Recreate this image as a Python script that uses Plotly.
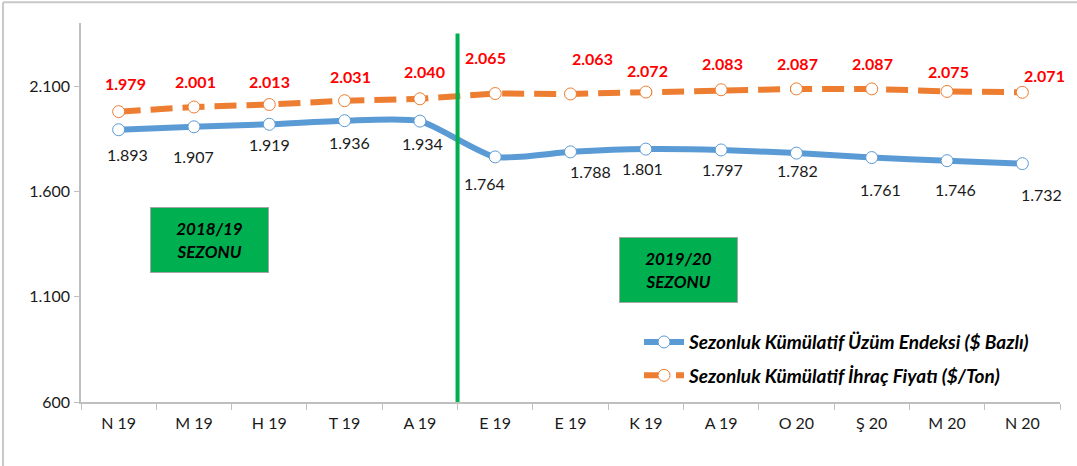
import plotly.graph_objects as go

months = ["N 19", "M 19", "H 19", "T 19", "A 19", "E 19", "E 19", "K 19", "A 19", "O 20", "Ş 20", "M 20", "N 20"]
endeks = [1893, 1907, 1919, 1936, 1934, 1764, 1788, 1801, 1797, 1782, 1761, 1746, 1732]
fiyat = [1979, 2001, 2013, 2031, 2040, 2065, 2063, 2072, 2083, 2087, 2087, 2075, 2071]
y_ticks = [600, 1100, 1600, 2100]
season_labels = ["2018/19<br>SEZONU", "2019/20<br>SEZONU"]

# label offsets (style only)
f_shift = [(7, 28), (2, 26), (0, 23), (6, 24), (5, 27), (-10, 36), (22, 35), (2, 22), (1, 26), (1, 25), (1, 25), (1, 20), (22, 17)]
e_shift = [(9, -25), (0, -30), (0, -20), (5, -22), (3, -22), (-11, -27), (20, -20), (-3, -19), (1, -20), (1, -17), (9, -32), (8, -29), (19, -31)]

FONT = "Lato"
BLUE = "#5B9BD5"
ORANGE = "#ED7D31"
GREEN = "#00B050"
AX = "#BFBFBF"

def fmt(v):
    return f"{v:,}".replace(",", ".")

x = list(range(len(months)))

fig = go.Figure()
fig.add_trace(go.Scatter(
    x=x, y=endeks, mode="lines+markers",
    name="<b><i>Sezonluk Kümülatif Üzüm Endeksi ($ Bazlı)</i></b>",
    line=dict(color=BLUE, width=6, shape="spline", smoothing=0.6),
    marker=dict(symbol="circle", size=12, color="white", line=dict(color=BLUE, width=1)),
    legend="legend",
))
fig.add_trace(go.Scatter(
    x=x, y=fiyat, mode="lines+markers",
    name="<b><i>Sezonluk Kümülatif İhraç Fiyatı ($/Ton)</i></b>",
    line=dict(color=ORANGE, width=6, dash="22px,10px"),
    marker=dict(symbol="circle", size=12, color="white", line=dict(color=ORANGE, width=1)),
    legend="legend2",
))

annotations = []
for i, v in enumerate(fiyat):
    annotations.append(dict(x=i, y=v, xref="x", yref="y", text=f"<b>{fmt(v)}</b>", showarrow=False,
                            xshift=f_shift[i][0], yshift=f_shift[i][1],
                            font=dict(family=FONT, size=16, color="#FF0000")))
for i, v in enumerate(endeks):
    annotations.append(dict(x=i, y=v, xref="x", yref="y", text=fmt(v), showarrow=False,
                            xshift=e_shift[i][0], yshift=e_shift[i][1],
                            font=dict(family=FONT, size=16, color="#1a1a1a")))

# season boxes
for (bx, by), txt in zip([(1.2, 1368), (7.44, 1226)], season_labels):
    annotations.append(dict(x=bx, y=by, xref="x", yref="y", text=f"<b><i>{txt}</i></b>", showarrow=False,
                            bgcolor=GREEN, bordercolor="#A6A6A6", borderwidth=1,
                            width=115, height=62, align="center", valign="middle",
                            font=dict(family=FONT, size=17, color="black")))

shapes = [
    dict(type="line", xref="x", yref="y", x0=4.5, x1=4.5, y0=600, y1=2350,
         line=dict(color=GREEN, width=4)),
    # outer chart border (top and left)
    dict(type="line", xref="paper", yref="paper", x0=-0.0797, x1=1.02, y0=1.055, y1=1.055,
         line=dict(color="#C8C8C8", width=2)),
    dict(type="line", xref="paper", yref="paper", x0=-0.0797, x1=-0.0797, y0=1.055, y1=-0.2,
         line=dict(color="#C8C8C8", width=2)),
]

fig.update_layout(
    width=1077, height=466,
    margin=dict(l=81, r=17, t=23, b=64),
    paper_bgcolor="white", plot_bgcolor="white",
    font=dict(family=FONT, size=16, color="#1a1a1a"),
    annotations=annotations,
    shapes=shapes,
    legend=dict(x=0.570, y=0.158, xanchor="left", yanchor="middle", bgcolor="rgba(0,0,0,0)",
                font=dict(family=FONT, size=19, color="black"), itemwidth=40),
    legend2=dict(x=0.570, y=0.070, xanchor="left", yanchor="middle", bgcolor="rgba(0,0,0,0)",
                 font=dict(family=FONT, size=19, color="black"), itemwidth=40),
    showlegend=True,
)

fig.update_xaxes(
    range=[-0.5, 12.5], tickmode="array", tickvals=x, ticktext=months,
    ticks="", showgrid=False, zeroline=False,
    showline=True, linecolor=AX, linewidth=1.5,
    tickfont=dict(family=FONT, size=16, color="#1a1a1a"),
    ticklabelstandoff=6,
    minor=dict(tick0=-0.5, dtick=1, ticks="outside", ticklen=6, tickcolor=AX, tickwidth=1, showgrid=False),
)
fig.update_yaxes(
    range=[600, 2400], tickmode="array", tickvals=y_ticks, ticktext=[fmt(v) for v in y_ticks],
    ticks="outside", ticklen=5, tickcolor=AX, showgrid=False, zeroline=False,
    showline=True, linecolor=AX, linewidth=1.5,
    tickfont=dict(family=FONT, size=16, color="#1a1a1a"),
    ticklabelstandoff=1,
)

fig.write_html("out.html", config={"displayModeBar": False},
               post_script="document.body.style.margin='0px';")
